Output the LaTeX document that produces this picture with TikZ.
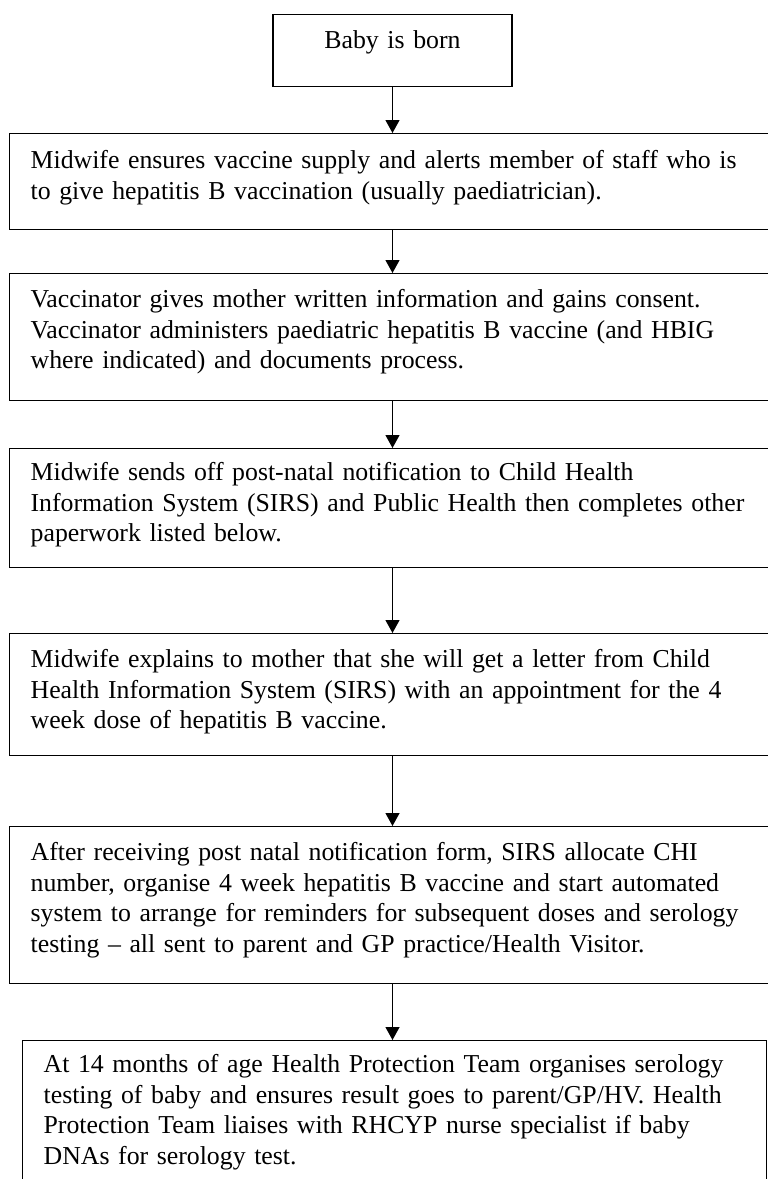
\documentclass[tikz,border=0pt]{standalone}
\usepackage{fontspec}
\setmainfont{Liberation Serif}
\usetikzlibrary{positioning,arrows.meta}

\begin{document}
\begin{tikzpicture}
      % Set up styles
      [x=1pt, y=1pt,
       box/.style={draw, line width=1.3pt, inner xsep=21pt, inner ysep=0pt,
                   align=left, font=\fontsize{25.8}{30.5}\selectfont},
       wide/.style={box, anchor=north west, text width=739pt},
       arr/.style={line width=1.2pt, -{Triangle[width=14pt,length=13pt]}}]

      \useasboundingbox (0,0) rectangle (768,-1179);

      % Boxes, top to bottom
      \node[box, anchor=north, align=center, text width=197pt,
            text height=34pt, text depth=38pt] (born) at (392.5,-14) {Baby is born};
      \node[wide, text height=35pt, text depth=61pt] (midwife) at (9,-133)
        {Midwife ensures vaccine supply and alerts member of staff who is\\
         to give hepatitis B vaccination (usually paediatrician).};
      \node[wide, text height=34pt, text depth=93pt] (consent) at (9,-273)
        {Vaccinator gives mother written information and gains consent.\\
         Vaccinator administers paediatric hepatitis B vaccine (and HBIG\\
         where indicated) and documents process.};
      \node[wide, text height=32pt, text depth=87pt] (notify) at (9,-448)
        {Midwife sends off post-natal notification to Child Health\\
         Information System (SIRS) and Public Health then completes other\\
         paperwork listed below.};
      \node[wide, text height=34pt, text depth=88pt] (explain) at (9,-633)
        {Midwife explains to mother that she will get a letter from Child\\
         Health Information System (SIRS) with an appointment for the 4\\
         week dose of hepatitis B vaccine.};
      \node[wide, text height=34pt, text depth=123pt] (sirs) at (9,-826)
        {After receiving post natal notification form, SIRS allocate CHI\\
         number, organise 4 week hepatitis B vaccine and start automated\\
         system to arrange for reminders for subsequent doses and serology\\
         testing – all sent to parent and GP practice/Health Visitor.};
      \node[box, anchor=north west, text width=702pt,
            text height=32pt, text depth=128pt] (serology) at (22,-1040)
        {At 14 months of age Health Protection Team organises serology\\
         testing of baby and ensures result goes to parent/GP/HV. Health\\
         Protection Team liaises with RHCYP nurse specialist if baby\\
         DNAs for serology test.};

      % Draw arrows
      \draw[arr] (born.south) -- (born.south |- midwife.north);
      \draw[arr] (born.south |- midwife.south) -- (born.south |- consent.north);
      \draw[arr] (born.south |- consent.south) -- (born.south |- notify.north);
      \draw[arr] (born.south |- notify.south) -- (born.south |- explain.north);
      \draw[arr] (born.south |- explain.south) -- (born.south |- sirs.north);
      \draw[arr] (born.south |- sirs.south) -- (born.south |- serology.north);

\end{tikzpicture}
\end{document}
